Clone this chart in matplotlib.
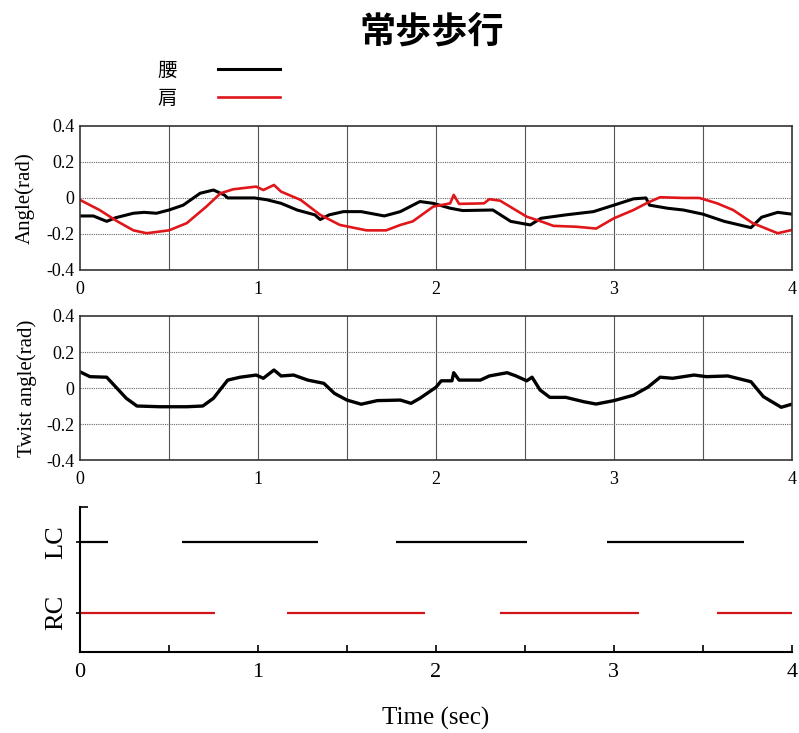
import numpy as np
import matplotlib
matplotlib.use("Agg")
import matplotlib.pyplot as plt
from matplotlib.ticker import MultipleLocator, FixedLocator


# ---- data ----
waist_t = [0, 0.075, 0.15, 0.2, 0.3, 0.36, 0.43, 0.5, 0.58, 0.675, 0.75, 0.81, 0.83,
           0.98, 1.05, 1.13, 1.22, 1.32, 1.35, 1.4, 1.48, 1.58, 1.71, 1.8, 1.91, 1.985,
           2.08, 2.15, 2.32, 2.42, 2.53, 2.59, 2.73, 2.885, 3.0, 3.11, 3.18, 3.2, 3.3,
           3.39, 3.5, 3.62, 3.77, 3.83, 3.92, 4.0]
waist_v = [-0.1, -0.1, -0.13, -0.11, -0.085, -0.08, -0.085, -0.067, -0.04, 0.026, 0.044,
           0.017, 0, 0, -0.01, -0.03, -0.067, -0.094, -0.12, -0.094, -0.076, -0.076, -0.1,
           -0.076, -0.02, -0.03, -0.057, -0.07, -0.067, -0.13, -0.15, -0.113, -0.094,
           -0.076, -0.04, -0.005, 0, -0.04, -0.057, -0.067, -0.09, -0.13, -0.165, -0.107,
           -0.08, -0.09]

shoulder_t = [0, 0.11, 0.21, 0.3, 0.375, 0.5, 0.6, 0.71, 0.79, 0.86, 0.99, 1.03, 1.09,
              1.13, 1.24, 1.35, 1.46, 1.61, 1.72, 1.8, 1.87, 1.985, 2.08, 2.1, 2.13, 2.27,
              2.3, 2.36, 2.51, 2.59, 2.66, 2.79, 2.9, 3.0, 3.11, 3.19, 3.26, 3.39, 3.48,
              3.58, 3.67, 3.78, 3.92, 4.0]
shoulder_v = [-0.011, -0.067, -0.13, -0.18, -0.196, -0.18, -0.14, -0.048, 0.026, 0.048,
              0.063, 0.044, 0.072, 0.035, -0.011, -0.094, -0.15, -0.18, -0.18, -0.15,
              -0.13, -0.048, -0.03, 0.017, -0.033, -0.03, -0.007, -0.015, -0.104, -0.13,
              -0.155, -0.16, -0.17, -0.113, -0.067, -0.026, 0.004, 0, 0, -0.03, -0.067,
              -0.14, -0.196, -0.178]

twist_t = [0, 0.056, 0.15, 0.2, 0.26, 0.32, 0.45, 0.6, 0.69, 0.75, 0.83, 0.9, 0.99, 1.03,
           1.09, 1.13, 1.2, 1.28, 1.37, 1.43, 1.5, 1.58, 1.67, 1.8, 1.86, 1.91, 2.0, 2.03,
           2.09, 2.1, 2.13, 2.25, 2.3, 2.4, 2.45, 2.51, 2.54, 2.585, 2.64, 2.73, 2.83, 2.9,
           3.0, 3.11, 3.19, 3.26, 3.33, 3.45, 3.52, 3.64, 3.77, 3.84, 3.94, 4.0]
twist_v = [0.09, 0.063, 0.06, 0.007, -0.057, -0.1, -0.104, -0.104, -0.1, -0.057, 0.044,
           0.06, 0.072, 0.054, 0.1, 0.067, 0.072, 0.044, 0.026, -0.03, -0.067, -0.09,
           -0.07, -0.067, -0.085, -0.057, 0.004, 0.04, 0.04, 0.085, 0.044, 0.044, 0.067,
           0.085, 0.067, 0.04, 0.06, -0.011, -0.052, -0.052, -0.076, -0.089, -0.07, -0.04,
           0.004, 0.06, 0.054, 0.072, 0.063, 0.067, 0.035, -0.048, -0.107, -0.09]

# foot contact intervals (start, end) in seconds
lc_start = [0, 0.575, 1.775, 2.96]
lc_end = [0.157, 1.337, 2.51, 3.73]
rc_start = [0, 1.165, 2.36, 3.58]
rc_end = [0.76, 1.94, 3.14, 4.0]

contact_labels = ["RC", "LC"]
angle_ticks = [-0.4, -0.2, 0, 0.2, 0.4]
angle_tick_labels = ["-0.4", "-0.2", "0", "0.2", "0.4"]
time_ticks = [0, 1, 2, 3, 4]

SERIF = "Liberation Serif"
CJK = ["Noto Sans CJK JP", "DejaVu Sans"]

plt.rcParams["axes.unicode_minus"] = False


def style_grid_axes(ax):
    ax.set_xlim(0, 4)
    ax.set_ylim(-0.4, 0.4)
    ax.set_xticks(time_ticks)
    ax.set_xticklabels([str(t) for t in time_ticks], fontfamily=SERIF, fontsize=13)
    ax.set_yticks(angle_ticks)
    ax.set_yticklabels(angle_tick_labels, fontfamily=SERIF, fontsize=13)
    ax.tick_params(axis="both", length=0)
    ax.tick_params(axis="x", pad=8)
    ax.tick_params(axis="y", pad=4)
    for x in np.arange(0.5, 4, 0.5):
        ax.axvline(x, color="#555555", lw=0.8, zorder=0)
    for y in [-0.2, 0, 0.2]:
        ax.axhline(y, color="#666666", lw=0.8, ls=(0, (1, 1)), zorder=0)
    for s in ax.spines.values():
        s.set_color("#333333")
        s.set_linewidth(1.2)


fig = plt.figure(figsize=(7.99, 7.33), dpi=100)

ax1 = fig.add_axes([0.1001, 0.6317, 0.891, 0.1965])
ax2 = fig.add_axes([0.1001, 0.3724, 0.891, 0.1965])
ax3 = fig.add_axes([0.1001, 0.1105, 0.891, 0.198])

# ---- panel 1: waist / shoulder angle ----
l_waist, = ax1.plot(waist_t, waist_v, color="black", lw=2.2, label="腰")
l_shoulder, = ax1.plot(shoulder_t, shoulder_v, color="#e0161b", lw=1.9, label="肩")
style_grid_axes(ax1)
ax1.set_ylabel("Angle(rad)", fontfamily=SERIF, fontsize=15)
ax1.yaxis.set_label_coords(-0.064, 0.5)

# ---- panel 2: twist angle ----
ax2.plot(twist_t, twist_v, color="black", lw=2.4)
style_grid_axes(ax2)
ax2.set_ylabel("Twist angle(rad)", fontfamily=SERIF, fontsize=15)
ax2.yaxis.set_label_coords(-0.061, 0.5)

# ---- panel 3: foot contact ----
ax3.hlines([1] * len(lc_start), lc_start, lc_end, color="black", lw=1.6)
ax3.hlines([0] * len(rc_start), rc_start, rc_end, color="#d0141a", lw=1.6)
ax3.set_xlim(0, 4)
ax3.set_ylim(-0.55, 1.49)
ax3.spines["top"].set_visible(False)
ax3.spines["right"].set_visible(False)
for s in ("left", "bottom"):
    ax3.spines[s].set_linewidth(1.5)
ax3.set_xticks(time_ticks)
ax3.set_xticklabels([str(t) for t in time_ticks], fontfamily=SERIF, fontsize=16)
ax3.xaxis.set_minor_locator(MultipleLocator(0.5))
ax3.tick_params(axis="x", which="both", direction="in", length=5, width=1.2, pad=8)
ax3.set_yticks([0, 1])
ax3.set_yticklabels(contact_labels, fontfamily=SERIF, fontsize=19, rotation=90, va="center")
ax3.tick_params(axis="y", which="major", length=3, width=1.2, pad=6)
ax3.yaxis.set_minor_locator(FixedLocator([1.49]))
ax3.tick_params(axis="y", which="minor", direction="in", length=6, width=1.2)
ax3.set_xlabel("Time (sec)", fontfamily=SERIF, fontsize=18, labelpad=18)

# ---- title and legend ----
fig.suptitle("常歩歩行", x=0.54, y=0.982, fontfamily=CJK, fontsize=26, fontweight="bold")
fig.legend([l_waist, l_shoulder], ["腰", "肩"], loc="center",
           bbox_to_anchor=(0.274, 0.885), frameon=False, markerfirst=False,
           handlelength=3.2, handletextpad=2.1, labelspacing=0.35,
           prop={"family": CJK, "size": 14})

fig.savefig("out.png", dpi=100)
